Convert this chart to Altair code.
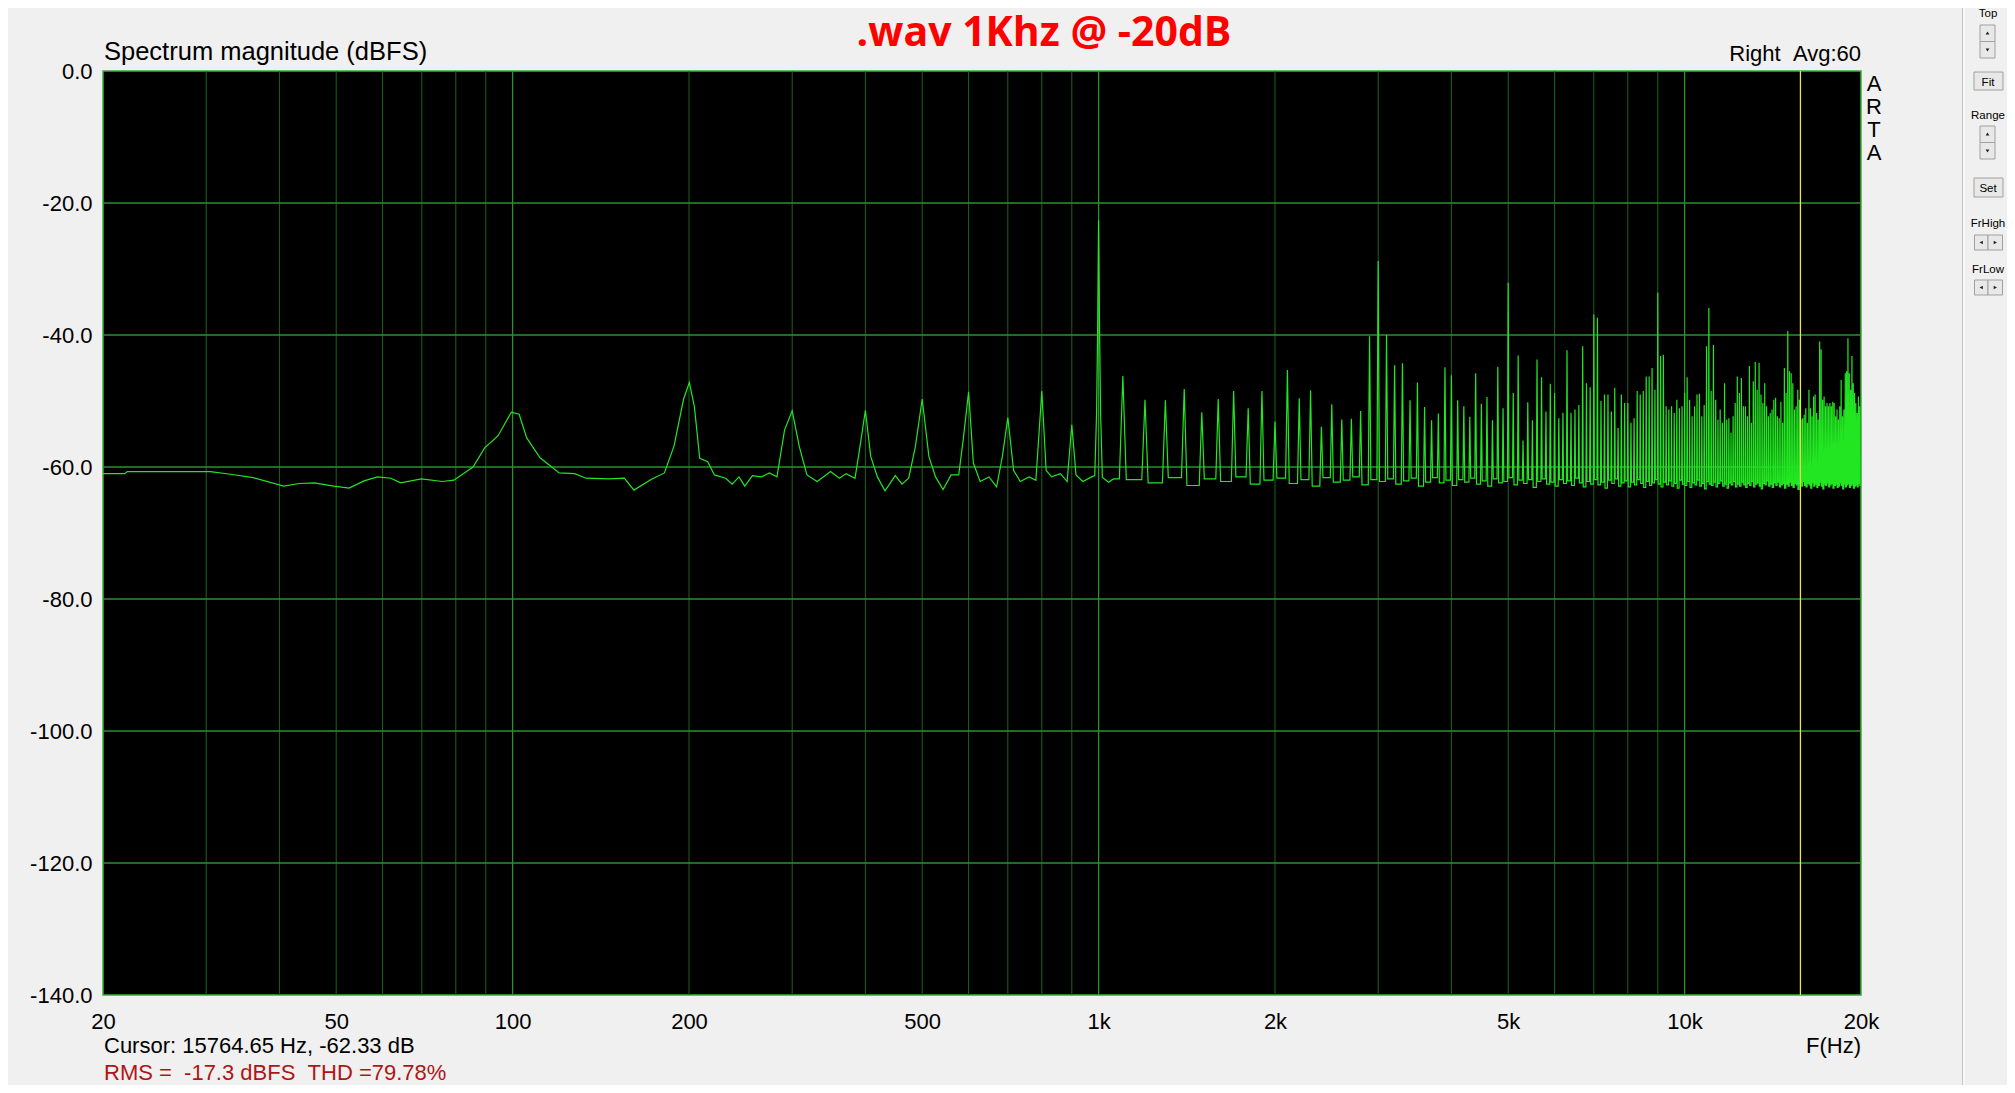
import altair as alt
import pandas as pd

# ---------------- data ----------------
# detailed low-frequency trace (Hz, dBFS) up to just past the 1 kHz tone
low_hz = [20, 21.8, 22.0, 30.5, 33.0, 36.1, 40.7, 43.2, 45.9, 49.5,
          52.6, 55.8, 58.8, 62.0, 64.4, 69.9, 75.9, 79.4, 85.6, 89.6,
          94.4, 99.5, 102.6, 105.7, 111.4, 120.1, 127.6, 133.4, 146.1, 155.1,
          161.1, 172.3, 181.6, 188.6, 195.8, 200.3, 204.3, 208.6, 215.3, 221,
          231, 237, 243.4, 249, 256.6, 265.7, 274.3, 282.6, 291.1, 300,
          308.5, 317.9, 330.9, 348.8, 361.2, 370.8, 384, 390.8, 400, 408.4,
          419.3, 432, 449.8, 461.8, 474.2, 486.8, 500, 513.3, 526.9, 542.8,
          560.2, 577.2, 587.4, 600, 611.4, 627.8, 650.2, 669.8, 685.2, 700,
          716, 735, 761.2, 781.6, 800, 813.8, 831, 860.8, 883.8, 900,
          915, 939.8, 973.4, 985, 992, 996, 1000, 1004, 1008, 1015,
          1040, 1060]
low_db = [-61.0, -61.0, -60.7, -60.7, -61.1, -61.6, -62.9, -62.5, -62.4, -62.9,
          -63.2, -62.1, -61.5, -61.7, -62.4, -61.8, -62.2, -62.0, -60.0, -57.1,
          -55.3, -51.7, -52.0, -55.6, -58.6, -60.9, -61.0, -61.7, -61.8, -61.7,
          -63.5, -61.9, -60.9, -56.8, -49.7, -47.2, -50.9, -58.7, -59.2, -61.2,
          -61.7, -62.6, -61.5, -62.9, -61.3, -61.5, -60.9, -61.5, -54.4, -51.5,
          -56.9, -61.2, -62.2, -60.7, -61.7, -61.0, -61.7, -57.4, -51.4, -58.4,
          -61.5, -63.6, -61.3, -62.6, -61.7, -56.9, -49.7, -58.4, -61.5, -63.4,
          -61.2, -61.2, -55.9, -48.6, -59.4, -62.2, -61.5, -63.0, -58.4, -52.5,
          -60.5, -62.2, -61.5, -62.0, -48.5, -60.5, -61.5, -61.0, -62.2, -53.6,
          -61.2, -62.2, -61.5, -61.3, -52.0, -40.0, -22.6, -40.0, -52.0, -61.6,
          -62.3, -61.8]

# harmonic spikes every 100 Hz from 1.1 kHz to 19.9 kHz
harm_hz = list(range(1100, 20000, 100))
harm_peak_db = [
    -46.2, -49.8, -49.9, -48.2, -51.7, -49.7, -48.5, -51.1, -48.5, -53.1,   # 1.1k-2.0k
    -45.3, -49.6, -48.4, -53.9, -50.5, -52.8, -52.7, -51.5, -40.2, -28.8,   # 2.1k-3.0k
    -40.0, -44.6, -44.3, -49.9, -47.2, -50.9, -52.9, -51.9, -44.9, -46.1,   # 3.1k-4.0k
    -49.9, -50.8, -52.4, -45.8, -50.4, -49.4, -52.9, -44.8, -51.1, -32.1,   # 4.1k-5.0k
    -48.8, -43.1, -56.0, -50.2, -52.9, -43.7, -46.4, -51.6, -47.4, -48.8,   # 5.1k-6.0k
    -52.6, -51.8, -42.3, -51.8, -51.3, -50.6, -41.7, -47.3, -47.9, -36.9,   # 6.1k-7.0k
    -37.4, -50.0, -49.0, -49.0, -51.6, -48.0, -54.1, -49.0, -50.3, -50.3,   # 7.1k-8.0k
    -53.3, -52.6, -48.5, -49.0, -48.5, -46.3, -46.3, -45.0, -48.3, -33.6,   # 8.1k-9.0k
    -43.2, -43.0, -50.8, -51.3, -50.8, -51.8, -49.8, -51.1, -50.8, -48.8,   # 9.1k-10k
    -46.4, -49.8, -52.3, -50.8, -49.0, -48.9, -52.3, -50.6, -41.7, -35.9,   # 10.1k-11k
    -48.5, -41.5, -49.8, -52.8, -51.3, -53.3, -47.3, -52.8, -52.6, -54.8,   # 11.1k-12k
    -52.3, -50.3, -46.3, -48.8, -46.5, -50.8, -50.8, -52.3, -44.7, -53.3,   # 12.1k-13k
    -47.0, -44.1, -48.3, -44.2, -49.0, -50.3, -47.3, -50.8, -52.3, -51.8,   # 13.1k-14k
    -51.3, -49.8, -49.5, -52.3, -52.6, -50.1, -53.3, -45.0, -48.8, -39.4,   # 14.1k-15k
    -45.5, -45.8, -47.3, -51.3, -50.8, -48.3, -49.8, -52.8, -52.6, -52.1,   # 15.1k-16k
    -51.1, -53.3, -48.3, -51.1, -52.3, -49.3, -49.0, -51.8, -52.8, -41.0,   # 16.1k-17k
    -42.2, -49.8, -49.3, -50.8, -50.3, -50.8, -50.3, -50.8, -50.1, -50.3,   # 17.1k-18k
    -52.3, -51.3, -52.8, -50.8, -46.8, -52.3, -51.3, -45.8, -45.5, -40.5,   # 18.1k-19k
    -45.8, -48.3, -43.2, -47.3, -48.8, -50.3, -51.8, -49.3, -50.8]          # 19.1k-19.9k
# noise floor level in the gap after each harmonic
harm_floor_db = [
    -61.9, -62.4, -61.6, -62.8, -61.8, -62.2, -61.5, -62.6, -62.0, -61.7,
    -62.5, -61.9, -62.9, -61.6, -62.3, -62.0, -61.5, -62.7, -61.9, -62.2,
    -61.8, -62.6, -62.1, -61.7, -62.9, -62.3, -61.6, -62.4, -62.0, -62.8,
    -61.9, -62.3, -61.7, -62.6, -62.1, -62.9, -61.8, -62.4, -62.2, -61.6,
    -62.7, -62.0, -62.5, -61.9, -63.1, -62.2, -61.8, -62.6, -62.3, -62.9,
    -61.9, -62.5, -62.1, -62.8, -61.7, -62.4, -63.0, -62.2, -62.6, -61.9,
    -62.7, -62.3, -63.2, -62.0, -62.5, -61.8, -62.9, -62.4, -62.1, -63.0,
    -62.3, -62.7, -61.9, -62.5, -63.1, -62.2, -62.8, -62.4, -61.9, -62.6,
    -63.0, -62.3, -62.7, -62.1, -62.9, -62.5, -63.2, -62.0, -62.6, -62.8,
    -62.2, -63.1, -62.4, -62.7, -62.0, -62.9, -62.5, -63.3, -62.2, -62.6,
    -62.8, -62.3, -63.0, -62.5, -62.1, -62.9, -62.6, -63.2, -62.4, -62.7,
    -62.2, -63.0, -62.6, -62.9, -62.3, -62.7, -63.1, -62.5, -62.8, -62.2,
    -63.0, -62.6, -62.4, -62.9, -63.3, -62.5, -62.7, -62.1, -62.9, -62.6,
    -63.1, -62.4, -62.8, -62.3, -63.0, -62.7, -62.5, -63.2, -62.6, -62.9,
    -62.3, -62.8, -63.1, -62.5, -62.7, -63.4, -62.6, -62.9, -62.2, -62.8,
    -63.0, -62.5, -62.7, -63.2, -62.4, -62.9, -62.6, -63.1, -62.8, -62.3,
    -62.9, -63.3, -62.6, -62.8, -62.4, -63.0, -62.7, -62.5, -63.2, -62.8,
    -62.6, -63.1, -62.9, -62.4, -62.8, -63.3, -62.6, -63.0, -62.7, -62.5,
    -63.1, -62.8, -62.6, -63.2, -62.9, -62.7, -63.0, -62.5, -62.8]

grid_minor_hz = [30, 40, 50, 60, 70, 80, 90,
                 200, 300, 400, 500, 600, 700, 800, 900,
                 2000, 3000, 4000, 5000, 6000, 7000, 8000, 9000]
grid_decade_hz = [100, 1000, 10000]
grid_db = [-20, -40, -60, -80, -100, -120]
x_label_hz = [20, 50, 100, 200, 500, 1000, 2000, 5000, 10000, 20000]
y_label_db = [0, -20, -40, -60, -80, -100, -120, -140]
cursor_hz = [15764.65]

# ---------------- build the trace ----------------
SPIKE_HALF = 15  # Hz, half base width of each harmonic spike
pts_hz, pts_db = list(low_hz), list(low_db)
prev = low_db[-1]
for f, pk, fl in zip(harm_hz, harm_peak_db, harm_floor_db):
    pts_hz += [f - SPIKE_HALF, f, f + SPIKE_HALF]
    pts_db += [prev, pk, fl]
    prev = fl
pts_hz.append(20000)
pts_db.append(prev)
spec = pd.DataFrame({"hz": pts_hz, "db": pts_db, "i": range(len(pts_hz))})

W, H = 1758, 924
FONT = "Liberation Sans"
xscale = alt.Scale(type="log", domain=[20, 20000], nice=False)
yscale = alt.Scale(domain=[-140, 0], nice=False, zero=False)
xaxis = alt.Axis(values=x_label_hz, grid=False, ticks=False, tickSize=0, domain=False,
                 title=None, labelFont=FONT, labelFontSize=22, labelColor="black",
                 labelBaseline="alphabetic", labelPadding=33, labelFlush=False,
                 labelOverlap=False, labelBound=False,
                 labelExpr="datum.value >= 1000 ? (datum.value/1000) + 'k' : '' + datum.value")
yaxis = alt.Axis(values=y_label_db, grid=False, ticks=False, tickSize=0, domain=False,
                 title=None, labelFont=FONT, labelFontSize=22, labelColor="black",
                 labelPadding=11, labelFlush=False, labelOverlap=False, labelBound=False,
                 labelExpr="datum.value + '.0'")


def X(field):
    return alt.X(field, type="quantitative", scale=xscale, axis=xaxis)


def Y(field):
    return alt.Y(field, type="quantitative", scale=yscale, axis=yaxis)


minor = alt.Chart(pd.DataFrame({"hz": grid_minor_hz})).mark_rule(
    color="#1d641d", strokeWidth=1).encode(x=X("hz"))
decade = alt.Chart(pd.DataFrame({"hz": grid_decade_hz})).mark_rule(
    color="#2f8f2f", strokeWidth=1.3).encode(x=X("hz"))
hgrid = alt.Chart(pd.DataFrame({"db": grid_db})).mark_rule(
    color="#2f8f2f", strokeWidth=1.3).encode(y=Y("db"))
line = alt.Chart(spec).mark_line(color="#22e622", strokeWidth=1.2).encode(
    x=X("hz"), y=Y("db"), order="i:Q")
cursor = alt.Chart(pd.DataFrame({"hz": cursor_hz})).mark_rule(
    color="#e8e84a", strokeWidth=1.3).encode(x=X("hz"))

one = pd.DataFrame({"k": [0]})


def txt(s, x, y, size=22, align="left", color="black", font=FONT, weight="normal",
        baseline="alphabetic", **kw):
    return alt.Chart(one).mark_text(
        text=s, align=align, baseline=baseline, fontSize=size, font=font,
        fontWeight=weight, color=color, **kw).encode(x=alt.value(x), y=alt.value(y))


def rect(x1, x2, y1, y2, fill="#e8e8e8", stroke="#a0a0a0"):
    return alt.Chart(one).mark_rect(fill=fill, stroke=stroke, strokeWidth=1).encode(
        x=alt.value(x1), x2=alt.value(x2), y=alt.value(y1), y2=alt.value(y2))


def tri(shape, x, y):
    return alt.Chart(one).mark_point(shape=shape, filled=True, size=14, color="#202020",
                                     opacity=1).encode(x=alt.value(x), y=alt.value(y))


def vrule(x, y1, y2, color):
    return alt.Chart(one).mark_rule(color=color, strokeWidth=1).encode(
        x=alt.value(x), y=alt.value(y1), y2=alt.value(y2))


texts = [
    txt(".wav 1Khz @ -20dB", 941, -25, size=41, align="center", color="#ff0000",
        font="Open Sans", weight="bold"),
    txt("Spectrum magnitude (dBFS)", 1, -11, size=25.5),
    txt("Right \u00a0Avg:60", 1758, -10, align="right"),
    txt("A\nR\nT\nA", 1771, 20, align="center", lineBreak="\n", lineHeight=23),
    txt("Cursor: 15764.65 Hz, -62.33 dB", 1, 982),
    txt("RMS = \u00a0-17.3 dBFS \u00a0THD =79.78%", 1, 1009, color="#b01515"),
    txt("F(Hz)", 1758, 982, align="right"),
]

PX = 1885  # centre of the side panel controls
panel = [
    vrule(1859.5, -63, 1014, "#c4c4c4"),
    vrule(1861, -63, 1014, "#ffffff"),
    txt("Top", PX, -54, size=11.5, align="center"),
    rect(1877, 1892, -46, -29.5), rect(1877, 1892, -29.5, -13),
    tri("triangle-up", 1884.5, -38), tri("triangle-down", 1884.5, -21),
    rect(1871, 1900, 1, 19),
    txt("Fit", PX, 14.5, size=11.5, align="center"),
    txt("Range", PX, 48, size=11.5, align="center"),
    rect(1877, 1892, 55, 71.5), rect(1877, 1892, 71.5, 88),
    tri("triangle-up", 1884.5, 63), tri("triangle-down", 1884.5, 80),
    rect(1871, 1900, 107, 126),
    txt("Set", PX, 121, size=11.5, align="center"),
    txt("FrHigh", PX, 156, size=11.5, align="center"),
    rect(1871.5, 1885, 164, 179), rect(1885, 1899.5, 164, 179),
    tri("triangle-left", 1878.2, 171.5), tri("triangle-right", 1892.3, 171.5),
    txt("FrLow", PX, 202, size=11.5, align="center"),
    rect(1871.5, 1885, 209, 224), rect(1885, 1899.5, 209, 224),
    tri("triangle-left", 1878.2, 216.5), tri("triangle-right", 1892.3, 216.5),
]

chart = alt.layer(minor, decade, hgrid, line, cursor, *texts, *panel).properties(
    width=W, height=H,
    padding={"left": 95, "top": 63, "right": 146, "bottom": 90},
    autosize=alt.AutoSizeParams(type="none"),
    background="#f0f0f0",
).configure_view(fill="black", stroke="#36b036", strokeWidth=1.5)

chart.save("out.html", embed_options={"renderer": "svg", "actions": False})
